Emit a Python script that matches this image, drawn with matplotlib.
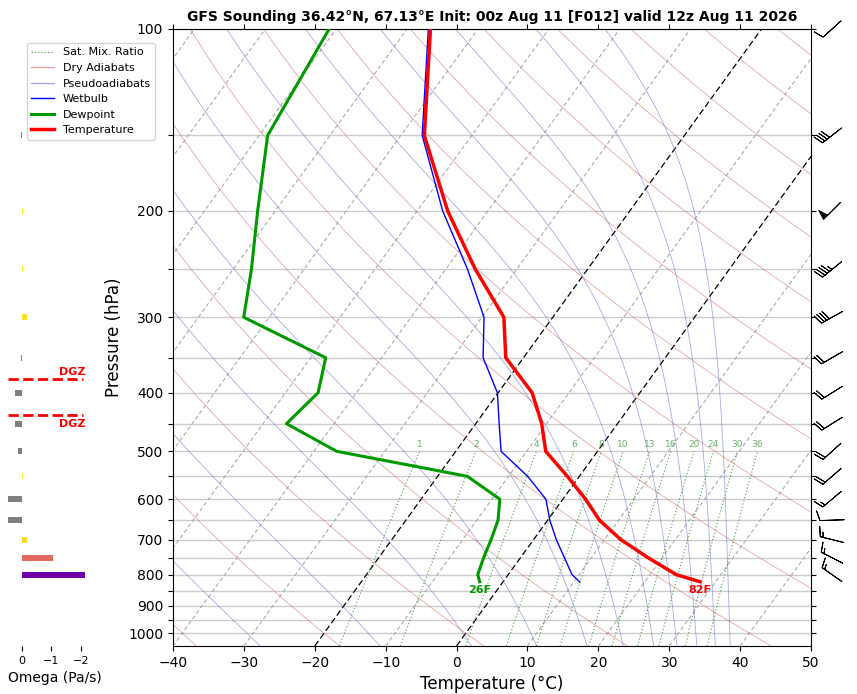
import numpy as np
import matplotlib
matplotlib.use('Agg')
import matplotlib.pyplot as plt
from matplotlib.transforms import Affine2D, blended_transform_factory
from matplotlib.lines import Line2D
from matplotlib.ticker import FixedLocator, FuncFormatter, NullLocator
from matplotlib import colors as mcolors

# ---------------- data ----------------
pressure = [822, 800, 750, 700, 650, 600, 550, 500, 450, 400, 350, 300, 250, 200, 150, 100]
temperature = [27.8, 23.7, 18.0, 12.3, 7.3, 3.2, -1.7, -7.3, -10.7, -15.2, -22.5, -26.9,
               -35.8, -45.7, -56.7, -66.7]
dewpoint = [-3.3, -4.3, -5.2, -6.0, -7.0, -8.9, -15.8, -36.8, -46.7, -45.4, -47.9, -63.6,
            -67.4, -72.5, -78.8, -81.0]
wetbulb = [10.8, 9.0, 6.2, 3.2, 0.3, -2.4, -7.3, -13.6, -16.7, -20.1, -25.7, -29.7,
           -36.9, -46.4, -57.0, -67.0]

wind_p = [800, 750, 700, 650, 600, 550, 500, 450, 400, 350, 300, 250, 200, 150, 100]
wind_dir = [305, 297, 284, 268, 230, 229, 228, 238, 238, 240, 241, 231, 225, 232, 228]
wind_spd = [15, 15, 15, 10, 15, 20, 20, 20, 20, 20, 40, 45, 50, 40, 10]

omega_p = [800, 750, 700, 650, 600, 550, 500, 450, 400, 350, 300, 250, 200, 150]
omega = [-2.14, -1.05, -0.17, 0.47, 0.47, -0.03, 0.13, 0.24, 0.24, 0.03, -0.16, -0.02,
         -0.03, 0.02]

mix_ratios = [1, 2, 4, 6, 8, 10, 13, 16, 20, 24, 30, 36]
dry_thetas = list(range(-40, 241, 20))
moist_t0 = [-27.7, -10.8, 2.1, 11.3, 18.4, 23.5, 27.8, 31.1, 33.9, 36.5, 38.6]
isotherms = list(range(-110, 51, 10))
pressure_ticks = list(range(100, 1001, 50))
temp_ticks = list(range(-40, 51, 10))

title = ("GFS Sounding 36.42\u00b0N, 67.13\u00b0E Init: 00z Aug 11 [F012] "
         "valid 12z Aug 11 2026")

P_BOT, P_TOP = 1050, 100
T_MIN, T_MAX = -40, 50

# ---------------- figure ----------------
W, H = 857, 694
fig = plt.figure(figsize=(W / 100, H / 100), dpi=100)
ax = fig.add_axes([173 / W, 48 / H, 638 / W, 617 / H])
ax.set_yscale('log')
ax.set_ylim(P_BOT, P_TOP)
ax.set_xlim(T_MIN, T_MAX)
ax.set_autoscale_on(False)

skew = ax.transScale + ax.transLimits + Affine2D().skew_deg(35, 0) + ax.transAxes

# grid (horizontal)
for p in pressure_ticks:
    ax.axhline(p, color='#cccccc', lw=1, zorder=0)

plev = np.linspace(P_BOT, P_TOP, 300)

# isotherms
for t in isotherms:
    if t in (0, -20):
        ax.plot([t, t], [P_BOT, P_TOP], transform=skew, color='black', lw=0.9,
                linestyle=(0, (5, 2.5)), zorder=1)
    else:
        ax.plot([t, t], [P_BOT, P_TOP], transform=skew, color='#aaaaaa', lw=0.8,
                linestyle=(0, (3.6, 2.4)), zorder=1)

# dry adiabats
for th in dry_thetas:
    tk = (th + 273.15) * (plev / 1000.0) ** 0.2857 - 273.15
    ax.plot(tk, plev, transform=skew, color='#d06060', alpha=0.55, lw=0.6, zorder=1)

# pseudoadiabats
def moist_profile(t0c, plevels):
    Rd, Cp, Lv, eps = 287.04, 1005.7, 2.501e6, 0.622
    def f(p, T):
        es = 6.112 * np.exp(17.67 * (T - 273.15) / (T - 29.65))
        rs = eps * es / (p - es)
        return (1.0 / p) * (Rd * T + Lv * rs) / (Cp + Lv * Lv * rs * eps / (Rd * T * T))
    T = np.asarray(t0c, float) + 273.15
    out = [T.copy()]
    for i in range(len(plevels) - 1):
        p = plevels[i]
        h = plevels[i + 1] - p
        k1 = f(p, T)
        k2 = f(p + h / 2, T + h / 2 * k1)
        k3 = f(p + h / 2, T + h / 2 * k2)
        k4 = f(p + h, T + h * k3)
        T = T + h / 6 * (k1 + 2 * k2 + 2 * k3 + k4)
        out.append(T.copy())
    return np.array(out) - 273.15

mp = moist_profile(moist_t0, plev)
for j in range(mp.shape[1]):
    ax.plot(mp[:, j], plev, transform=skew, color='#5555cc', alpha=0.5, lw=0.6, zorder=1)

# mixing ratio lines
pm = np.linspace(P_BOT, 500, 100)
for w in mix_ratios:
    wk = w / 1000.0
    es = wk * pm / (0.622 + wk)
    lg = np.log(es / 6.112)
    td = 243.5 * lg / (17.67 - lg)
    ax.plot(td, pm, transform=skew, color='#2e8b2e', alpha=0.7, lw=0.9,
            linestyle=':', zorder=1)
    ax.annotate(str(w), (td[-1], pm[-1]), xycoords=skew, xytext=(0, 1.5),
                textcoords='offset points', ha='center', va='bottom',
                fontsize=6.5, color='#2e8b2e', alpha=0.7, annotation_clip=False)

# profiles
ax.plot(wetbulb, pressure, transform=skew, color='blue', lw=1, zorder=4)
ax.plot(dewpoint, pressure, transform=skew, color='#009900', lw=2.2, zorder=5)
ax.plot(temperature, pressure, transform=skew, color='red', lw=2.5, zorder=6)

# surface labels
def c_to_f(c):
    return c * 9.0 / 5.0 + 32.0

ax.annotate(f"{c_to_f(dewpoint[0]):.0f}F", (dewpoint[0], pressure[0]), xycoords=skew,
            xytext=(0, -2.5), textcoords='offset points', ha='center', va='top',
            fontsize=8, fontweight='bold', color='#009900', zorder=7)
ax.annotate(f"{c_to_f(temperature[0]):.0f}F", (temperature[0], pressure[0]), xycoords=skew,
            xytext=(0, -2.5), textcoords='offset points', ha='center', va='top',
            fontsize=8, fontweight='bold', color='red', zorder=7)

# wind barbs
wd = np.deg2rad(np.array(wind_dir, float))
ws = np.array(wind_spd, float)
u = -ws * np.sin(wd)
v = -ws * np.cos(wd)
btr = blended_transform_factory(ax.transAxes, ax.transData)
ax.barbs(np.full(len(wind_p), 1.033), wind_p, u, v, transform=btr, clip_on=False,
         length=5.9, pivot='middle', linewidth=0.7, color='black', zorder=8)

# axes ticks
ax.yaxis.set_major_locator(FixedLocator(pressure_ticks))
ax.yaxis.set_minor_locator(NullLocator())
ax.yaxis.set_major_formatter(FuncFormatter(lambda p, pos: f"{int(round(p))}" if int(round(p)) % 100 == 0 else ""))
ax.xaxis.set_major_locator(FixedLocator(temp_ticks))
ax.tick_params(axis='both', which='major', labelsize=10, top=True, right=True)
ax.set_xlabel('Temperature (\u00b0C)', fontsize=12)
ax.set_ylabel('Pressure (hPa)', fontsize=12)
ax.set_title(title, fontsize=10, fontweight='bold')

# legend
handles = [
    Line2D([], [], color='#5fa85f', lw=0.9, linestyle=':'),
    Line2D([], [], color='#e39a9a', lw=0.9),
    Line2D([], [], color='#a3a3e3', lw=0.9),
    Line2D([], [], color='blue', lw=1),
    Line2D([], [], color='#009900', lw=2.2),
    Line2D([], [], color='red', lw=2.5),
]
labels = ['Sat. Mix. Ratio', 'Dry Adiabats', 'Pseudoadiabats', 'Wetbulb', 'Dewpoint',
          'Temperature']
fig.legend(handles, labels, loc='upper left', bbox_to_anchor=(27 / W, 1 - 43 / H),
           borderaxespad=0, fontsize=8)

# ---------------- omega panel ----------------
oax = fig.add_axes([8 / W, 48 / H, 94 / W, 617 / H])
oax.set_yscale('log')
oax.set_ylim(P_BOT, P_TOP)
oax.set_xlim(0.4746, -2.712)
norm = mcolors.Normalize(vmin=-2.7, vmax=0)
bar_colors = ['gray' if w > 0 else plt.cm.plasma(norm(w)) for w in omega]
oax.barh(omega_p, omega, height=np.array(omega_p) * 0.023, color=bar_colors)
for s in oax.spines.values():
    s.set_visible(False)
oax.yaxis.set_major_locator(NullLocator())
oax.yaxis.set_minor_locator(NullLocator())
oax.xaxis.set_major_locator(FixedLocator([0, -1, -2]))
oax.tick_params(axis='x', labelsize=8)
oax.set_xlabel('Omega (Pa/s)', fontsize=10)

# DGZ: pressures where temperature crosses -12 and -18 C
lp = np.log(np.array(pressure, float))
tt = np.array(temperature, float)
def cross_p(target):
    for i in range(len(tt) - 1):
        a, b = tt[i], tt[i + 1]
        if (a - target) * (b - target) <= 0 and a != b:
            f = (target - a) / (b - a)
            return float(np.exp(lp[i] + f * (lp[i + 1] - lp[i])))
    return None

p_top_dgz = cross_p(-18.0)
p_bot_dgz = cross_p(-12.0)
tro = blended_transform_factory(oax.transAxes, oax.transData)
for pd_, va, off in [(p_top_dgz, 'bottom', 2), (p_bot_dgz, 'top', -3)]:
    oax.axhline(pd_, xmin=0, xmax=0.8, color='red', lw=2, linestyle='--')
    oax.annotate('DGZ', (0.82, pd_), xycoords=tro, xytext=(0, off),
                 textcoords='offset points', ha='right', va=va, fontsize=8,
                 fontweight='bold', color='red')

fig.savefig('out.png', dpi=100)
